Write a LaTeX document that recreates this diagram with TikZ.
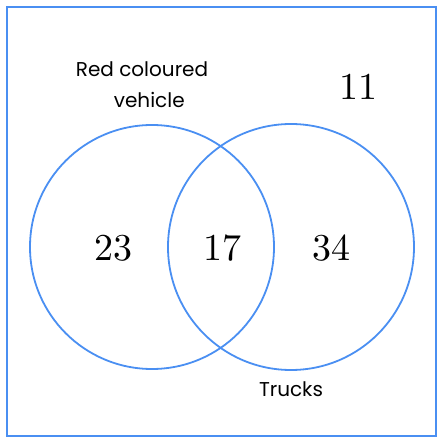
\documentclass[tikz,border=0pt]{standalone}
\usepackage{graphicx}
\usepackage{fontspec}
\newfontfamily\pop{Poppins}
\definecolor{vblue}{HTML}{4A8FF2}
\newcommand{\bignum}[1]{\scalebox{3.8}{\fontsize{10}{12}\selectfont #1}}
\begin{document}
\begin{tikzpicture}[x=1pt,y=1pt,
  ring/.style={draw=vblue,line width=1.8pt},
  lbl/.style={font=\pop\fontsize{20}{31}\selectfont},
  num/.style={inner sep=0pt}]
\useasboundingbox (0,0) rectangle (444,445);
\node[draw=vblue,line width=2pt,minimum width=429pt,minimum height=429pt,inner sep=0pt] (frame) at (221.5,223.5) {};
\node[ring,circle,minimum size=244pt,inner sep=0pt] (A) at (152,198) {};
\node[ring,circle,minimum size=246pt,inner sep=0pt] (B) at (291,198) {};
\node[lbl,align=left] (la) at (142,360) {Red coloured\\\hspace*{38pt}vehicle};
\node[lbl] (lb) at (291,56) {Trucks};
\node[num] (n1) at (113,197) {\bignum{23}};
\node[num] (n2) at (222,197) {\bignum{17}};
\node[num] (n3) at (331,197) {\bignum{34}};
\node[num] (n4) at (358,358) {\bignum{11}};
\end{tikzpicture}
\end{document}
